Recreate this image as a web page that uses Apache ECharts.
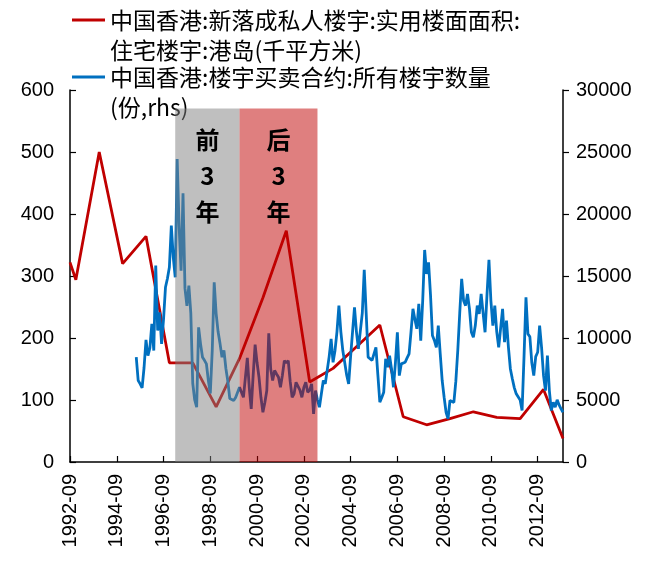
<!DOCTYPE html>
<html><head><meta charset="utf-8">
<script src="https://cdn.jsdelivr.net/npm/echarts@6/dist/echarts.min.js"></script>
<style>html,body{margin:0;padding:0;background:#fff}#c{width:656px;height:561px}</style>
</head><body><div id="c"></div>
<script>
// ---- data ----
const redName = '中国香港:新落成私人楼宇:实用楼面面积:\n住宅楼宇:港岛(千平方米)';
const blueName = '中国香港:楼宇买卖合约:所有楼宇数量\n(份,rhs)';
const firstMonth = [1992, 9];
const lastMonth = [2013, 10];

const redDates = ['1992-09','1992-12','1993-12','1994-12','1995-12','1996-12','1997-12','1998-12','1999-12','2000-12','2001-12','2002-12','2003-12','2004-12','2005-12','2006-12','2007-12','2008-12','2009-12','2010-12','2011-12','2012-12','2013-10'];
const redValues = [322,294,500,320,364,160,160,89,167,265,373,129,151,186,221,73,60,70,81,72,70,117,38];

const blueStart = '1995-07';
const blue1995 = [8450,6570,6300,5980,7600,9850];
const blue1996 = [8580,9200,11140,8990,15840,10600,12070,9530,11500,14090,14800,15700];
const blue1997 = [19060,16500,14900,24440,19000,15430,21670,14000,12600,14230,12000,6330];
const blue1998 = [5000,4420,10860,9530,8450,8200,7910,6570,5520,9000,14490,11970];
const blue1999 = [10500,9550,8450,9000,7540,6500,5120,5000,4960,5200,5360,6030];
const blue2000 = [5900,5220,6800,8400,6000,4290,7000,9470,8000,6830,5200,4010];
const blue2001 = [4800,5760,10380,7500,6570,7380,7100,6830,6030,7000,8180,8000];
const blue2002 = [8180,6500,5220,5500,6430,6430,5800,5220,6000,6430,5630,5800];
const blue2003 = [6300,3880,5760,5000,4420,5500,6570,6300,6170,8500,9930,8040];
const blue2004 = [9000,10500,12610,10500,8990,8000,7000,6300,8500,10500,12480,10500];
const blue2005 = [9120,9120,12000,15490,12000,8450,8320,8200,8040,9250,7000,4820];
const blue2006 = [5200,5630,8320,7640,8580,7500,6030,8000,10460,6970,7910,7900];
const blue2007 = [8040,8400,8720,10500,12350,11500,10740,12750,9790,13000,17100,15170];
const blue2008 = [16100,13500,10200,9800,9250,11000,8720,6570,5220,4000,3480,4960];
const blue2009 = [5090,4800,6500,8990,12000,14770,13000,12610,13560,12350,10460,10060];
const blue2010 = [11000,12610,11950,13560,12000,10460,13500,16300,13000,11000,12610,10500];
const blue2011 = [9250,10800,12350,9660,11400,9250,7500,6710,6000,5500,5630,5000];
const blue2012 = [4150,8500,13280,10330,10100,8000,6970,8500,8850,11000,9250,7000];
const blue2013 = [5760,8580,5760,4150,4820,4420,5010,4600,4290,4010];

const bandPre = ['1997-03','1999-12'];
const bandPost = ['1999-12','2003-04'];
const bandTop = 570;
const bandPreLabel = '前\n3\n年';
const bandPostLabel = '后\n3\n年';

const leftTicks = {min:0, max:600, interval:100};
const rightTicks = {min:0, max:30000, interval:5000};

// ---- build ----
const pad = n => (n < 10 ? '0' : '') + n;
const months = [];
for (let y = firstMonth[0], m = firstMonth[1]; y < lastMonth[0] || (y === lastMonth[0] && m <= lastMonth[1]); ) {
  months.push(y + '-' + pad(m));
  m++; if (m > 12) { m = 1; y++; }
}
const blueValues = [].concat(blue1995,blue1996,blue1997,blue1998,blue1999,blue2000,blue2001,blue2002,blue2003,blue2004,blue2005,blue2006,blue2007,blue2008,blue2009,blue2010,blue2011,blue2012,blue2013);
const b0 = months.indexOf(blueStart);
const blueData = blueValues.map((v, i) => [months[b0 + i], v]);
const redData = redDates.map((d, i) => [d, redValues[i]]);

const cjk = '"Noto Sans CJK SC", "Noto Sans", sans-serif';
const num = '"Liberation Sans", Arial, sans-serif';

const legendText = {
  fontFamily: cjk, fontSize: 23, color: '#000', lineHeight: 30
};

const chart = echarts.init(document.getElementById('c'), null, {renderer: 'canvas'});
chart.setOption({
  animation: false,
  backgroundColor: '#fff',
  grid: {left: 70, right: 93, top: 90, bottom: 99, containLabel: false},
  legend: [
    {data: [redName], left: 72, top: -25, padding: 0, orient: 'vertical',
     icon: 'rect', itemWidth: 33, itemHeight: 3, itemGap: 5,
     formatter: n => '\n' + n, textStyle: legendText},
    {data: [blueName], left: 72, top: 32, padding: 0, orient: 'vertical',
     icon: 'rect', itemWidth: 33, itemHeight: 3, itemGap: 5,
     formatter: n => '\n' + n, textStyle: legendText}
  ],
  xAxis: {
    type: 'category', data: months, boundaryGap: false,
    axisLine: {lineStyle: {color: '#000', width: 1.5}},
    axisTick: {inside: true, length: 6, interval: 23, lineStyle: {color: '#000', width: 1.2}},
    axisLabel: {interval: 23, rotate: 90, margin: 12, fontFamily: num, fontSize: 20, color: '#000'},
    splitLine: {show: false}
  },
  yAxis: [
    {type: 'value', min: leftTicks.min, max: leftTicks.max, interval: leftTicks.interval,
     axisLine: {show: true, lineStyle: {color: '#000', width: 1.5}},
     axisTick: {show: true, inside: true, length: 6, lineStyle: {color: '#000', width: 1.2}},
     axisLabel: {margin: 16, fontFamily: num, fontSize: 20, color: '#000'},
     splitLine: {show: false}},
    {type: 'value', min: rightTicks.min, max: rightTicks.max, interval: rightTicks.interval, position: 'right',
     axisLine: {show: true, lineStyle: {color: '#000', width: 1.5}},
     axisTick: {show: true, inside: false, length: 6, lineStyle: {color: '#000', width: 1.2}},
     axisLabel: {margin: 13, fontFamily: num, fontSize: 20, color: '#000', formatter: v => String(v)},
     splitLine: {show: false}}
  ],
  series: [
    {name: redName, type: 'line', yAxisIndex: 0, data: redData, symbol: 'none',
     connectNulls: true, z: 2,
     lineStyle: {color: '#C00000', width: 2.8}, itemStyle: {color: '#C00000'}},
    {name: blueName, type: 'line', yAxisIndex: 1, data: blueData, symbol: 'none', z: 3,
     lineStyle: {color: '#0070C0', width: 2.8}, itemStyle: {color: '#0070C0'}},
    {name: 'bands', type: 'line', yAxisIndex: 0, data: [], z: 10, silent: true,
     markArea: {
       silent: true, z: 10,
       label: {show: true, position: 'insideTop', distance: 13, fontFamily: cjk, fontSize: 24,
               fontWeight: 'bold', color: '#000', lineHeight: 36, align: 'center'},
       data: [
         [{xAxis: bandPre[0], yAxis: 0, name: bandPreLabel, itemStyle: {color: 'rgba(128,128,128,0.5)'}},
          {xAxis: bandPre[1], yAxis: bandTop}],
         [{xAxis: bandPost[0], yAxis: 0, name: bandPostLabel, itemStyle: {color: 'rgba(192,0,0,0.5)'}},
          {xAxis: bandPost[1], yAxis: bandTop}]
       ]
     }}
  ]
});
</script>
</body></html>
